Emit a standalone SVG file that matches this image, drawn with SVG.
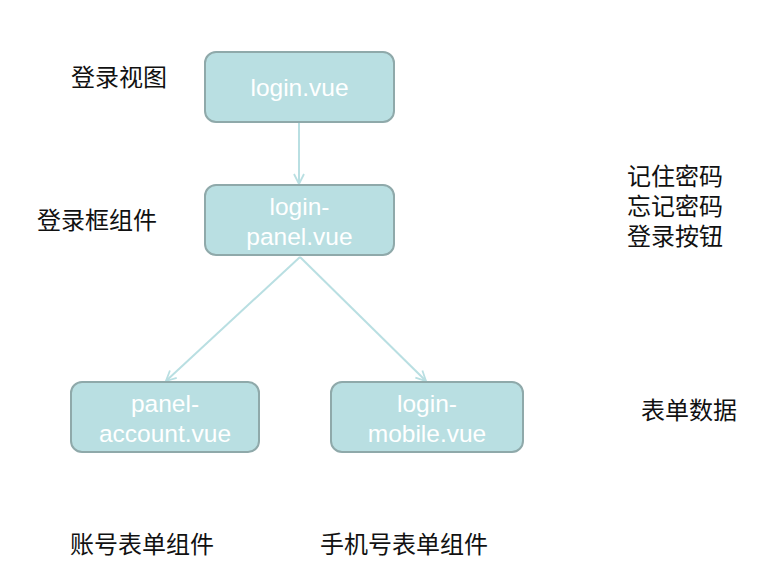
<svg xmlns="http://www.w3.org/2000/svg" width="768" height="572" viewBox="0 0 768 572">
<defs>
<style>
.node rect{fill:#b9dfe2;stroke:#8fa9aa;stroke-width:2}
.nt{font-family:"Liberation Sans",Arial,sans-serif;font-size:24.5px;fill:#ffffff;text-anchor:middle}
.cn{font-family:"Noto Sans CJK SC","Noto Sans",sans-serif;font-size:24px;fill:#111111}
.edge{stroke:#b9dfe2;stroke-width:2;fill:none;marker-end:url(#arr)}
</style>
<marker id="arr" viewBox="0 0 12 12" refX="11" refY="6" markerWidth="12" markerHeight="12" markerUnits="userSpaceOnUse" orient="auto">
<path d="M1,1 L11,6 L1,11" fill="none" stroke="#b9dfe2" stroke-width="1.8"/>
</marker>
</defs>
<rect width="768" height="572" fill="#ffffff"/>
<g id="connectors">
<line class="edge" x1="299" y1="123" x2="299" y2="184"/>
<line class="edge" x1="300" y1="257" x2="166" y2="381"/>
<line class="edge" x1="300" y1="257" x2="426" y2="381"/>
</g>
<g id="login-vue" class="node">
<rect x="205" y="52" width="189" height="70" rx="11"/>
<text class="nt" x="299.5" y="96">login.vue</text>
</g>
<g id="login-panel" class="node">
<rect x="205" y="185" width="189" height="70" rx="11"/>
<text class="nt" x="299.5" y="215">login-</text>
<text class="nt" x="299.5" y="245">panel.vue</text>
</g>
<g id="panel-account" class="node">
<rect x="71" y="382" width="188" height="70" rx="11"/>
<text class="nt" x="165" y="412">panel-</text>
<text class="nt" x="165" y="442">account.vue</text>
</g>
<g id="login-mobile" class="node">
<rect x="331" y="382" width="192" height="70" rx="11"/>
<text class="nt" x="427" y="412">login-</text>
<text class="nt" x="427" y="442">mobile.vue</text>
</g>
<g id="labels">
<text class="cn" x="71" y="86">登录视图</text>
<text class="cn" x="37" y="229">登录框组件</text>
<text class="cn"><tspan x="627" y="185">记住密码</tspan><tspan x="627" y="215">忘记密码</tspan><tspan x="627" y="245">登录按钮</tspan></text>
<text class="cn" x="641" y="419">表单数据</text>
<text class="cn" x="70" y="553">账号表单组件</text>
<text class="cn" x="320" y="553">手机号表单组件</text>
</g>
</svg>
